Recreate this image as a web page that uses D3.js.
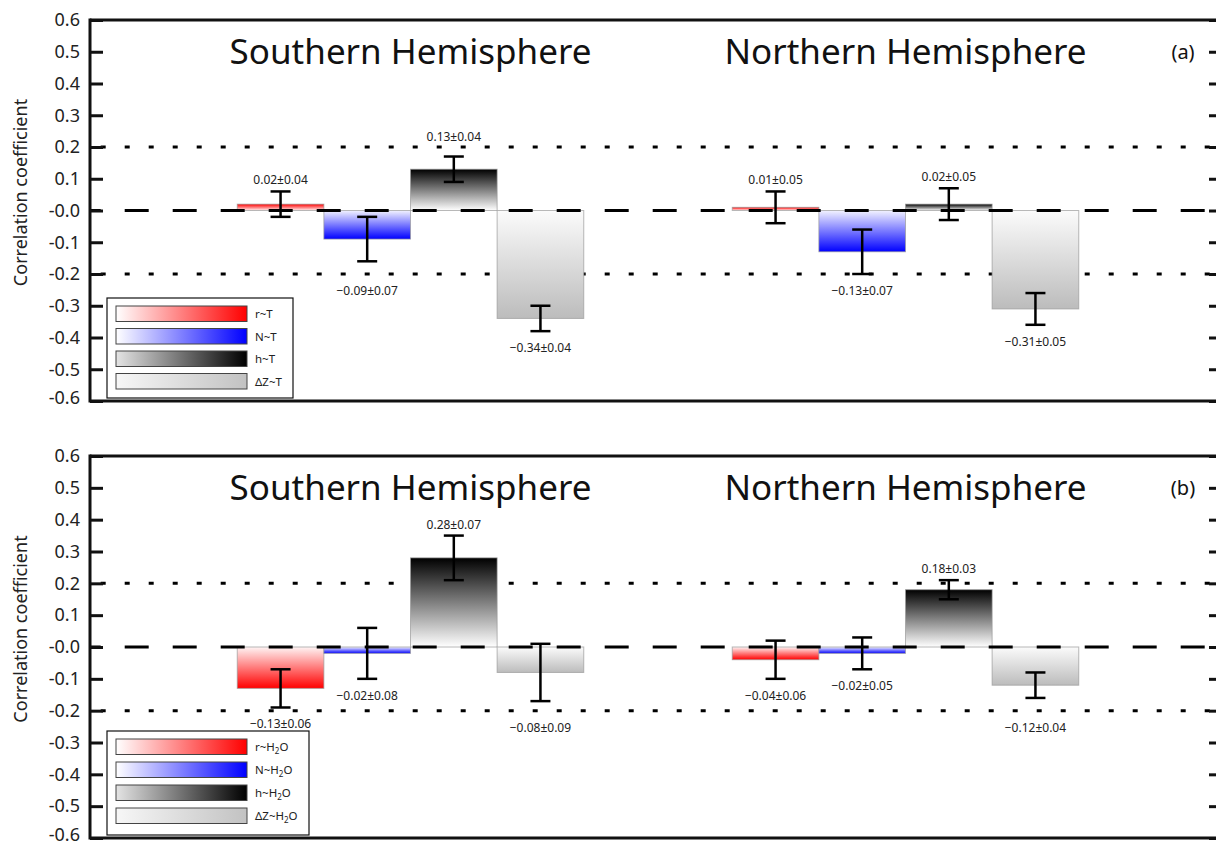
<!DOCTYPE html>
<html>
<head>
<meta charset="utf-8">
<script src="https://cdn.jsdelivr.net/npm/d3@7"></script>
<style>
  body { margin: 0; background: #fff; }
  svg { display: block; font-family: "Noto Sans", "Open Sans", sans-serif; }
</style>
</head>
<body>
<div id="chart"></div>
<script>
const width = 1216, height = 847;

// data
const groups = ["Southern Hemisphere", "Northern Hemisphere"];
const series = ["r", "N", "h", "ΔZ"];
const tempMean = [[0.02, -0.09, 0.13, -0.34], [0.01, -0.13, 0.02, -0.31]];
const tempErr  = [[0.04, 0.07, 0.04, 0.04], [0.05, 0.07, 0.05, 0.05]];
const vapMean  = [[-0.13, -0.02, 0.28, -0.08], [-0.04, -0.02, 0.18, -0.12]];
const vapErr   = [[0.06, 0.08, 0.07, 0.09], [0.06, 0.05, 0.03, 0.04]];
const yTicks = [0.6, 0.5, 0.4, 0.3, 0.2, 0.1, 0, -0.1, -0.2, -0.3, -0.4, -0.5, -0.6];
const yTickLabels = ["0.6", "0.5", "0.4", "0.3", "0.2", "0.1", "-0.0", "-0.1", "-0.2", "-0.3", "-0.4", "-0.5", "-0.6"];
const refLines = [0.2, -0.2];

// colours: [light end, saturated end]
const barColors = [["#fff4f4", "#ff0000"], ["#f2f2ff", "#0000ff"], ["#ffffff", "#000000"], ["#fbfbfb", "#bcbcbc"]];
const legColors = [["#ffffff", "#ff0000"], ["#ffffff", "#0000ff"], ["#e4e4e4", "#000000"], ["#f7f7f7", "#c2c2c2"]];

const svg = d3.select("#chart").append("svg")
    .attr("width", width)
    .attr("height", height);

const defs = svg.append("defs");
barColors.forEach((c, i) => {
    // up: light at bottom (zero), dark at top
    const up = defs.append("linearGradient").attr("id", "up" + i)
        .attr("x1", 0).attr("y1", 1).attr("x2", 0).attr("y2", 0);
    up.append("stop").attr("offset", "0%").attr("stop-color", c[0]);
    up.append("stop").attr("offset", "100%").attr("stop-color", c[1]);
    const dn = defs.append("linearGradient").attr("id", "dn" + i)
        .attr("x1", 0).attr("y1", 0).attr("x2", 0).attr("y2", 1);
    dn.append("stop").attr("offset", "0%").attr("stop-color", c[0]);
    dn.append("stop").attr("offset", "100%").attr("stop-color", c[1]);
});
legColors.forEach((c, i) => {
    const g = defs.append("linearGradient").attr("id", "leg" + i)
        .attr("x1", 0).attr("y1", 0).attr("x2", 1).attr("y2", 0);
    g.append("stop").attr("offset", "0%").attr("stop-color", c[0]);
    g.append("stop").attr("offset", "100%").attr("stop-color", c[1]);
});

const left = 90, right = 1219;

const x0 = d3.scaleBand().domain(groups).range([163, 1153])
    .paddingInner(0.3).paddingOuter(0.15);
const x1 = d3.scaleBand().domain(series).range([0, x0.bandwidth()]);

function fmt(v) {
    const s = Math.abs(v).toFixed(2);
    return v < 0 ? "\u2212" + s : s;
}

function drawPanel(top, bottom, means, errs, tag, suffix) {
    const y = d3.scaleLinear().domain([-0.6, 0.6]).range([bottom, top]);
    const g = svg.append("g");

    // dotted reference lines (behind bars)
    g.selectAll(".ref").data(refLines).enter().append("line")
        .attr("x1", left).attr("x2", right)
        .attr("y1", d => y(d)).attr("y2", d => y(d))
        .attr("stroke", "#000").attr("stroke-width", 3)
        .attr("stroke-dasharray", "5,19").attr("stroke-dashoffset", 13.3);

    // bars
    const rows = [];
    groups.forEach((grp, gi) => series.forEach((s, si) => {
        rows.push({ grp, s, si, v: means[gi][si], e: errs[gi][si] });
    }));

    g.selectAll(".bar").data(rows).enter().append("rect")
        .attr("x", d => x0(d.grp) + x1(d.s))
        .attr("width", x1.bandwidth())
        .attr("y", d => y(Math.max(0, d.v)))
        .attr("height", d => Math.abs(y(d.v) - y(0)))
        .attr("fill", d => `url(#${d.v >= 0 ? "up" : "dn"}${d.si})`)
        .attr("stroke", "#9a9a9a").attr("stroke-width", 1).attr("stroke-opacity", 0.7);

    // zero dashed line (over bars)
    g.append("line")
        .attr("x1", left).attr("x2", right)
        .attr("y1", y(0)).attr("y2", y(0))
        .attr("stroke", "#000").attr("stroke-width", 3)
        .attr("stroke-dasharray", "24,24").attr("stroke-dashoffset", 13.3);

    // error bars
    const cx = d => x0(d.grp) + x1(d.s) + x1.bandwidth() / 2;
    const eb = g.selectAll(".err").data(rows).enter().append("g")
        .attr("stroke", "#000").attr("stroke-width", 2.5);
    eb.append("line").attr("x1", cx).attr("x2", cx)
        .attr("y1", d => y(d.v + d.e)).attr("y2", d => y(d.v - d.e));
    eb.append("line").attr("x1", d => cx(d) - 10).attr("x2", d => cx(d) + 10)
        .attr("y1", d => y(d.v + d.e)).attr("y2", d => y(d.v + d.e));
    eb.append("line").attr("x1", d => cx(d) - 10).attr("x2", d => cx(d) + 10)
        .attr("y1", d => y(d.v - d.e)).attr("y2", d => y(d.v - d.e));

    // value labels, nudged off the dotted lines
    const labelY = d => {
        if (d.v >= 0) {
            let b = y(d.v + d.e) - 7;
            const ly = y(0.2);
            if (b > ly - 2 && b - 10 < ly + 2) b = ly - 6;
            return b;
        }
        let b = y(d.v - d.e) + 21;
        const ly = y(-0.2);
        if (b > ly - 2 && b - 11 < ly + 2) b = ly + 21;
        return b;
    };
    g.selectAll(".val").data(rows).enter().append("text")
        .attr("x", cx)
        .attr("y", labelY)
        .attr("text-anchor", "middle")
        .attr("font-size", 12).attr("fill", "#222")
        .text(d => fmt(d.v) + "\u00b1" + d.e.toFixed(2));

    // frame
    g.append("line").attr("x1", left).attr("x2", right + 2)
        .attr("y1", top).attr("y2", top).attr("stroke", "#111").attr("stroke-width", 3);
    g.append("line").attr("x1", left).attr("x2", right + 2)
        .attr("y1", bottom).attr("y2", bottom).attr("stroke", "#111").attr("stroke-width", 3);

    const yAxis = d3.axisRight(y).tickValues(yTicks).tickSize(13)
        .tickFormat((d, i) => yTickLabels[i]);
    const ax = g.append("g").attr("transform", `translate(${left},0)`).call(yAxis);
    ax.select(".domain").attr("stroke", "#111").attr("stroke-width", 3)
        .attr("d", `M0,${top - 1.5}V${bottom + 1.5}`);
    ax.selectAll(".tick line").attr("stroke", "#111").attr("stroke-width", 3);
    ax.selectAll(".tick text").attr("x", -10).attr("text-anchor", "end")
        .attr("font-size", 18).attr("fill", "#222")
        .attr("font-family", "'Noto Sans', sans-serif")
        .attr("dy", d => d === -0.6 ? "0.12em" : "0.32em");

    const yAxisR = d3.axisLeft(y).tickValues(yTicks).tickSize(10).tickFormat("");
    const axR = g.append("g").attr("transform", `translate(${right},0)`).call(yAxisR);
    axR.select(".domain").attr("stroke", "#111").attr("stroke-width", 3);
    axR.selectAll(".tick line").attr("stroke", "#111").attr("stroke-width", 3);

    // titles
    g.selectAll(".title").data(groups).enter().append("text")
        .attr("x", d => x0(d) + x0.bandwidth() / 2)
        .attr("y", top + 44)
        .attr("text-anchor", "middle")
        .attr("font-size", 35).attr("fill", "#111")
        .text(d => d);

    g.append("text").attr("x", 1183).attr("y", top + 39)
        .attr("text-anchor", "middle").attr("font-size", 20).attr("fill", "#111")
        .text(tag);

    g.append("text")
        .attr("transform", `translate(27,${(top + bottom) / 2 - 18}) rotate(-90)`)
        .attr("text-anchor", "middle").attr("font-size", 18).attr("fill", "#222")
        .text("Correlation coefficient");

    // legend
    const lx = 107, ly = bottom - 103 - (suffix === "T" ? 0 : 4);
    const lw = suffix === "T" ? 186 : 202;
    const step = suffix === "T" ? 22.5 : 23;
    const lg = g.append("g").attr("transform", `translate(${lx},${ly})`);
    lg.append("rect").attr("width", lw).attr("height", suffix === "T" ? 100 : 104)
        .attr("fill", "#fff").attr("stroke", "#111").attr("stroke-width", 1.2);
    const item = lg.selectAll(".li").data(series).enter().append("g")
        .attr("transform", (d, i) => `translate(9,${8 + i * step})`);
    item.append("rect").attr("width", 131).attr("height", 15.5)
        .attr("fill", (d, i) => `url(#leg${i})`)
        .attr("stroke", "#444").attr("stroke-width", 1);
    const lt = item.append("text").attr("x", 139).attr("y", 12)
        .attr("font-size", 11.5).attr("fill", "#222");
    if (suffix === "T") {
        lt.text(d => d + "~T");
    } else {
        lt.append("tspan").text(d => d + "~H");
        lt.append("tspan").attr("font-size", 8).attr("dy", 3).text("2");
        lt.append("tspan").attr("dy", -3).text("O");
    }
}

drawPanel(20, 401, tempMean, tempErr, "(a)", "T");
drawPanel(456, 838, vapMean, vapErr, "(b)", "H2O");
</script>
</body>
</html>
